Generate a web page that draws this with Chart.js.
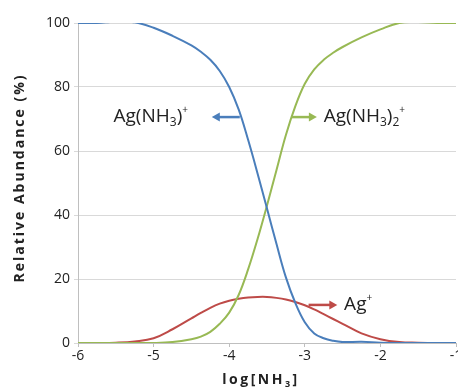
<!DOCTYPE html>
<html>
<head>
<meta charset="utf-8">
<script src="https://cdn.jsdelivr.net/npm/chart.js@4.4.1/dist/chart.umd.min.js"></script>
<style>
  html, body { margin: 0; padding: 0; background: #fff; }
  #wrap { width: 458px; height: 391px; position: relative; }
</style>
</head>
<body>
<div id="wrap"><canvas id="speciesChart"></canvas></div>
<script>
// log[NH3] values where the curves were read (denser through the steep part)
const logNH3 = [-6, -5.75, -5.5, -5.25, -5, -4.75, -4.5, -4.375, -4.25, -4.125, -4, -3.875, -3.75, -3.625, -3.5,
  -3.375, -3.25, -3.125, -3, -2.875, -2.75, -2.625, -2.5, -2.25, -2, -1.75, -1.5, -1.25, -1];

// relative abundance (%)
const blueSeries  = [100, 100, 100.4, 100.2, 98.5, 96, 93, 91, 88.5, 85, 80, 73, 63.5, 53, 42,
  31, 20.5, 12.5, 6.5, 3, 1.5, 0.7, 0.3, 0.4, 0.1, 0, 0, 0, 0];
const greenSeries = [0, 0, 0, 0, 0, 0.3, 1.2, 2, 3.5, 6, 9.5, 15, 23, 32.5, 43,
  54, 65, 74, 81, 85.5, 88.5, 90.7, 92.5, 95.5, 98, 100, 100.3, 100, 100];
const redSeries   = [0, 0, 0.1, 0.5, 1.5, 4.3, 7.7, 9.4, 11, 12.3, 13.2, 13.8, 14.2, 14.4, 14.4,
  14.1, 13.6, 12.8, 11.8, 10.5, 9, 7.5, 6, 3, 1.2, 0.3, 0.1, 0, 0];

const xTicks = [-6, -5, -4, -3, -2, -1];
const yTicks = [0, 20, 40, 60, 80, 100];

const blueColor = '#4a7ebb';
const greenColor = '#98b954';
const redColor = '#be4b48';

// labels: [text pieces], anchor in data units, arrow from/to in data units
const labels = [
  { parts: [['Ag(NH', 0], ['3', -1], [')', 0], ['+', 1]], x: -5.53, y: 70.6, color: blueColor, arrow: [-3.86, -4.23] },
  { parts: [['Ag(NH', 0], ['3', -1], [')', 0], ['2', -1], ['+', 1]], x: -2.75, y: 70.6, color: greenColor, arrow: [-3.17, -2.84] },
  { parts: [['Ag', 0], ['+', 1]], x: -2.48, y: 11.9, color: redColor, arrow: [-2.95, -2.57] }
];

const FONT = '"Open Sans", "Liberation Sans", sans-serif';

function pts(ys) {
  return logNH3.map((x, i) => ({ x: x, y: ys[i] }));
}

function drawRich(ctx, parts, x, y, size) {
  let cx = x;
  parts.forEach(([txt, pos]) => {
    const s = pos === 0 ? size : Math.round(size * (pos < 0 ? 0.62 : 0.55));
    ctx.font = s + 'px ' + FONT;
    const dy = pos === 0 ? 0 : (pos < 0 ? size * 0.28 : -size * 0.36);
    ctx.fillText(txt, cx, y + dy);
    cx += ctx.measureText(txt).width;
  });
  return cx - x;
}

function arrow(ctx, x1, x2, y, color) {
  const dir = Math.sign(x2 - x1);
  ctx.save();
  ctx.strokeStyle = color;
  ctx.fillStyle = color;
  ctx.lineWidth = 2.5;
  ctx.beginPath();
  ctx.moveTo(x1, y);
  ctx.lineTo(x2 - dir * 6, y);
  ctx.stroke();
  ctx.beginPath();
  ctx.moveTo(x2, y);
  ctx.lineTo(x2 - dir * 8, y - 4.5);
  ctx.lineTo(x2 - dir * 8, y + 4.5);
  ctx.closePath();
  ctx.fill();
  ctx.restore();
}

const annotations = {
  id: 'annotations',
  afterDatasetsDraw(chart) {
    const ctx = chart.ctx;
    const xs = chart.scales.x, ys = chart.scales.y;
    ctx.save();
    ctx.textBaseline = 'middle';
    labels.forEach(l => {
      const py = ys.getPixelForValue(l.y);
      arrow(ctx, xs.getPixelForValue(l.arrow[0]), xs.getPixelForValue(l.arrow[1]), py, l.color);
      ctx.fillStyle = '#222';
      drawRich(ctx, l.parts, xs.getPixelForValue(l.x), py, 19);
    });

    // axis titles
    ctx.fillStyle = '#222';
    ctx.letterSpacing = '2px';
    ctx.textBaseline = 'middle';
    ctx.save();
    ctx.translate(20, 178);
    ctx.rotate(-Math.PI / 2);
    ctx.font = 'bold 14px ' + FONT;
    ctx.textAlign = 'center';
    ctx.fillText('Relative Abundance (%)', 0, 0);
    ctx.restore();

    ctx.letterSpacing = '2.5px';
    ctx.textAlign = 'left';
    const parts = [['log[NH', 0], ['3', -1], [']', 0]];
    let w = 0;
    parts.forEach(([t, p]) => {
      ctx.font = 'bold ' + (p === 0 ? 14 : 9) + 'px ' + FONT;
      w += ctx.measureText(t).width;
    });
    let cx = 261 - w / 2;
    parts.forEach(([t, p]) => {
      ctx.font = 'bold ' + (p === 0 ? 14 : 9) + 'px ' + FONT;
      ctx.fillText(t, cx, 380 + (p < 0 ? 4 : 0));
      cx += ctx.measureText(t).width;
    });
    ctx.restore();
  }
};

const ctx = document.getElementById('speciesChart');
new Chart(ctx, {
  type: 'line',
  data: {
    datasets: [
      { label: 'Ag(NH3)+', data: pts(blueSeries), borderColor: blueColor },
      { label: 'Ag(NH3)2+', data: pts(greenSeries), borderColor: greenColor },
      { label: 'Ag+', data: pts(redSeries), borderColor: redColor }
    ]
  },
  options: {
    responsive: true,
    maintainAspectRatio: false,
    animation: false,
    layout: { padding: { top: 23, right: 2, left: 0, bottom: 0 } },
    elements: {
      point: { radius: 0 },
      line: { borderWidth: 2, tension: 0.4, fill: false }
    },
    plugins: {
      legend: { display: false },
      tooltip: { enabled: false }
    },
    scales: {
      x: {
        type: 'linear',
        min: -6,
        max: -1,
        afterBuildTicks: s => { s.ticks = xTicks.map(v => ({ value: v })); },
        afterFit: s => { s.height = 48; s.paddingLeft = 0; s.paddingRight = 0; },
        grid: { display: true, drawOnChartArea: false, drawTicks: true, tickLength: 4, color: '#bfbfbf' },
        border: { color: '#bfbfbf' },
        ticks: { color: '#222', font: { family: FONT, size: 14 }, padding: 1 }
      },
      y: {
        min: 0,
        max: 100,
        afterBuildTicks: s => { s.ticks = yTicks.map(v => ({ value: v })); },
        afterFit: s => { s.width = 78; s.paddingTop = 0; s.paddingBottom = 0; },
        grid: { color: '#d9d9d9', drawTicks: true, tickLength: 4 },
        border: { color: '#bfbfbf' },
        ticks: { color: '#222', font: { family: FONT, size: 14 }, padding: 4 }
      }
    }
  },
  plugins: [annotations]
});
</script>
</body>
</html>
